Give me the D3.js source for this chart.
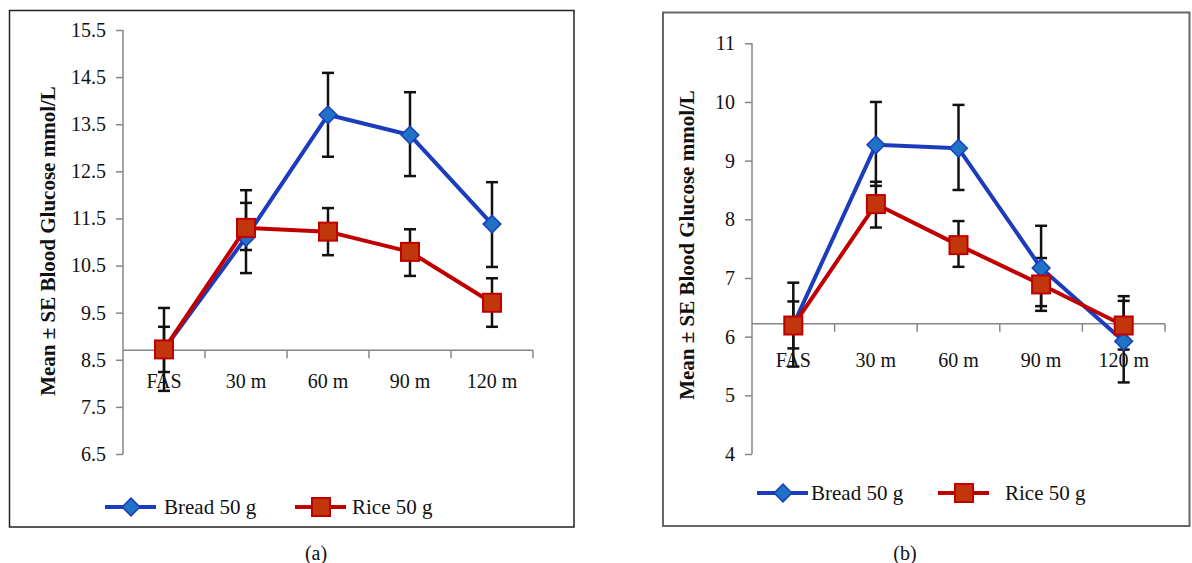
<!DOCTYPE html>
<html>
<head>
<meta charset="utf-8">
<script src="https://cdn.jsdelivr.net/npm/d3@7"></script>
<style>
  body { margin: 0; background: #fff; }
  svg { display: block; font-family: "Liberation Serif", "Times New Roman", serif; }
</style>
</head>
<body>
<div id="plot"></div>
<script>
// time points (same for both panels)
const categories = ["FAS", "30 m", "60 m", "90 m", "120 m"];
const seriesNames = ["Bread 50 g", "Rice 50 g"];

// panel (a)
const ticksA = [6.5, 7.5, 8.5, 9.5, 10.5, 11.5, 12.5, 13.5, 14.5, 15.5];
const breadA = [8.72, 11.1, 13.7, 13.27, 11.38];
const breadErrA = [[7.84, 9.6], [10.34, 11.83], [12.81, 14.59], [12.4, 14.18], [10.47, 12.27]];
const riceA = [8.72, 11.3, 11.22, 10.79, 9.71];
const riceErrA = [[8.24, 9.2], [10.83, 12.1], [10.72, 11.72], [10.28, 11.27], [9.2, 10.23]];

// panel (b)
const ticksB = [4, 5, 6, 7, 8, 9, 10, 11];
const breadB = [6.2, 9.27, 9.21, 7.17, 5.92];
const breadErrB = [[5.49, 6.92], [8.57, 10.0], [8.5, 9.95], [6.44, 7.89], [5.22, 6.61]];
const riceB = [6.19, 8.26, 7.56, 6.89, 6.19];
const riceErrB = [[5.8, 6.6], [7.86, 8.64], [7.19, 7.97], [6.52, 7.34], [5.78, 6.69]];

const svgWidth = 1192, svgHeight = 563;
const blueLine = "#1b3dbd", blueFill = "#1f72c4";
const redLine = "#c00000", redFill = "#c1360b";
const axisGray = "#868686";

const svg = d3.select("#plot").append("svg")
  .attr("width", svgWidth)
  .attr("height", svgHeight);

function drawPanel(p) {
  // outer frame
  svg.append("rect")
    .attr("x", p.frame[0]).attr("y", p.frame[1])
    .attr("width", p.frame[2]).attr("height", p.frame[3])
    .style("fill", "none")
    .style("stroke", p.frameColor)
    .style("stroke-width", p.frameWidth);

  const y = d3.scaleLinear().domain(d3.extent(p.ticks)).range([454, p.yTop]);
  const x = d3.scaleBand().domain(categories).range([p.x0, p.x1]).padding(0);

  // y axis
  const yAxis = svg.append("g")
    .attr("transform", `translate(${p.x0},0)`)
    .call(d3.axisLeft(y).tickValues(p.ticks).tickSize(7).tickPadding(10)
      .tickFormat(d => p.fmt(d)));
  yAxis.select(".domain").remove();
  yAxis.selectAll("line").attr("stroke", axisGray).attr("stroke-width", 1.5);
  yAxis.selectAll("text")
    .style("font-size", "20px")
    .style("fill", "#111")
    .style("font-family", "Liberation Serif");
  svg.append("line")
    .attr("x1", p.x0).attr("x2", p.x0)
    .attr("y1", y(d3.min(p.ticks))).attr("y2", y(d3.max(p.ticks)))
    .attr("stroke", axisGray).attr("stroke-width", 1.5);

  // x axis crossing
  const yc = y(p.cross);
  svg.append("line")
    .attr("x1", p.x0).attr("x2", p.x1)
    .attr("y1", yc).attr("y2", yc)
    .attr("stroke", axisGray).attr("stroke-width", 1.5);
  svg.selectAll(null)
    .data(categories)
    .enter()
    .append("line")
    .attr("x1", d => x(d) + x.bandwidth())
    .attr("x2", d => x(d) + x.bandwidth())
    .attr("y1", yc).attr("y2", yc + 8)
    .attr("stroke", axisGray).attr("stroke-width", 1.5);
  svg.selectAll(null)
    .data(categories)
    .enter()
    .append("text")
    .attr("x", d => x(d) + x.bandwidth() / 2)
    .attr("y", yc + p.labelGap)
    .style("text-anchor", "middle")
    .style("font-size", "20px")
    .style("fill", "#111")
    .text(d => d);

  // y axis title
  svg.append("text")
    .attr("transform", `translate(${p.titleX},${p.titleY}) rotate(-90)`)
    .attr("dy", "0.35em")
    .style("text-anchor", "middle")
    .style("font-size", "21px")
    .style("font-weight", "bold")
    .style("fill", "#111")
    .text("Mean ± SE Blood Glucose mmol/L");

  const cx = (d, i) => x(categories[i]) + x.bandwidth() / 2;

  // error bars
  [p.breadErr, p.riceErr].forEach(errs => {
    const g = svg.append("g").attr("stroke", "#111").attr("stroke-width", 2.5);
    errs.forEach((e, i) => {
      const xx = cx(null, i);
      g.append("line").attr("x1", xx).attr("x2", xx).attr("y1", y(e[0])).attr("y2", y(e[1]));
      g.append("line").attr("x1", xx - 6).attr("x2", xx + 6).attr("y1", y(e[0])).attr("y2", y(e[0]));
      g.append("line").attr("x1", xx - 6).attr("x2", xx + 6).attr("y1", y(e[1])).attr("y2", y(e[1]));
    });
  });

  const line = d3.line().x(cx).y(d => y(d));

  // bread series
  svg.append("path")
    .datum(p.bread)
    .attr("d", line)
    .attr("fill", "none")
    .attr("stroke", blueLine)
    .attr("stroke-width", 4)
    .attr("stroke-linejoin", "round");
  svg.selectAll(null)
    .data(p.bread)
    .enter()
    .append("path")
    .attr("d", d3.symbol().type(d3.symbolDiamond2).size(200))
    .attr("transform", (d, i) => `translate(${cx(d, i)},${y(d)})`)
    .attr("fill", blueFill)
    .attr("stroke", blueLine)
    .attr("stroke-width", 1.5);

  // rice series
  svg.append("path")
    .datum(p.rice)
    .attr("d", line)
    .attr("fill", "none")
    .attr("stroke", redLine)
    .attr("stroke-width", 4)
    .attr("stroke-linejoin", "round");
  svg.selectAll(null)
    .data(p.rice)
    .enter()
    .append("rect")
    .attr("x", (d, i) => cx(d, i) - 9)
    .attr("y", d => y(d) - 9)
    .attr("width", 18).attr("height", 18)
    .attr("fill", redFill)
    .attr("stroke", redLine)
    .attr("stroke-width", 2);

  // legend
  const ly = p.legendY;
  const lg = svg.append("g");
  lg.append("line")
    .attr("x1", p.legendX[0]).attr("x2", p.legendX[0] + 51)
    .attr("y1", ly).attr("y2", ly)
    .attr("stroke", blueLine).attr("stroke-width", 4);
  lg.append("path")
    .attr("d", d3.symbol().type(d3.symbolDiamond2).size(200))
    .attr("transform", `translate(${p.legendX[0] + 26},${ly})`)
    .attr("fill", blueFill).attr("stroke", blueLine).attr("stroke-width", 1.5);
  lg.append("text")
    .attr("x", p.legendX[1]).attr("y", ly + 7)
    .style("font-size", "21px").style("fill", "#111")
    .text(seriesNames[0]);
  lg.append("line")
    .attr("x1", p.legendX[2]).attr("x2", p.legendX[2] + 51)
    .attr("y1", ly).attr("y2", ly)
    .attr("stroke", redLine).attr("stroke-width", 4);
  lg.append("rect")
    .attr("x", p.legendX[2] + 26 - 9).attr("y", ly - 9)
    .attr("width", 18).attr("height", 18)
    .attr("fill", redFill).attr("stroke", redLine).attr("stroke-width", 2);
  lg.append("text")
    .attr("x", p.legendX[3]).attr("y", ly + 7)
    .style("font-size", "21px").style("fill", "#111")
    .text(seriesNames[1]);

  // caption
  svg.append("text")
    .attr("x", p.caption[0]).attr("y", p.caption[1])
    .style("text-anchor", "middle")
    .style("font-size", "20px")
    .style("fill", "#111")
    .text(p.caption[2]);
}

drawPanel({
  frame: [9.5, 10.5, 564.5, 516.5], frameColor: "#222", frameWidth: 1.5,
  ticks: ticksA, yTop: 30, fmt: d3.format(".1f"),
  x0: 123, x1: 533, cross: 8.7, labelGap: 38,
  bread: breadA, breadErr: breadErrA, rice: riceA, riceErr: riceErrA,
  titleX: 48, titleY: 241,
  legendY: 507, legendX: [105, 164, 295, 352],
  caption: [316, 560, "(a)"]
});

drawPanel({
  frame: [663, 12.5, 526.5, 513.5], frameColor: "#666", frameWidth: 2,
  ticks: ticksB, yTop: 43.3, fmt: d3.format("d"),
  x0: 752, x1: 1165, cross: 6.22, labelGap: 43,
  bread: breadB, breadErr: breadErrB, rice: riceB, riceErr: riceErrB,
  titleX: 687, titleY: 245,
  legendY: 493, legendX: [757, 811, 938, 1005],
  caption: [905, 560, "(b)"]
});
</script>
</body>
</html>
